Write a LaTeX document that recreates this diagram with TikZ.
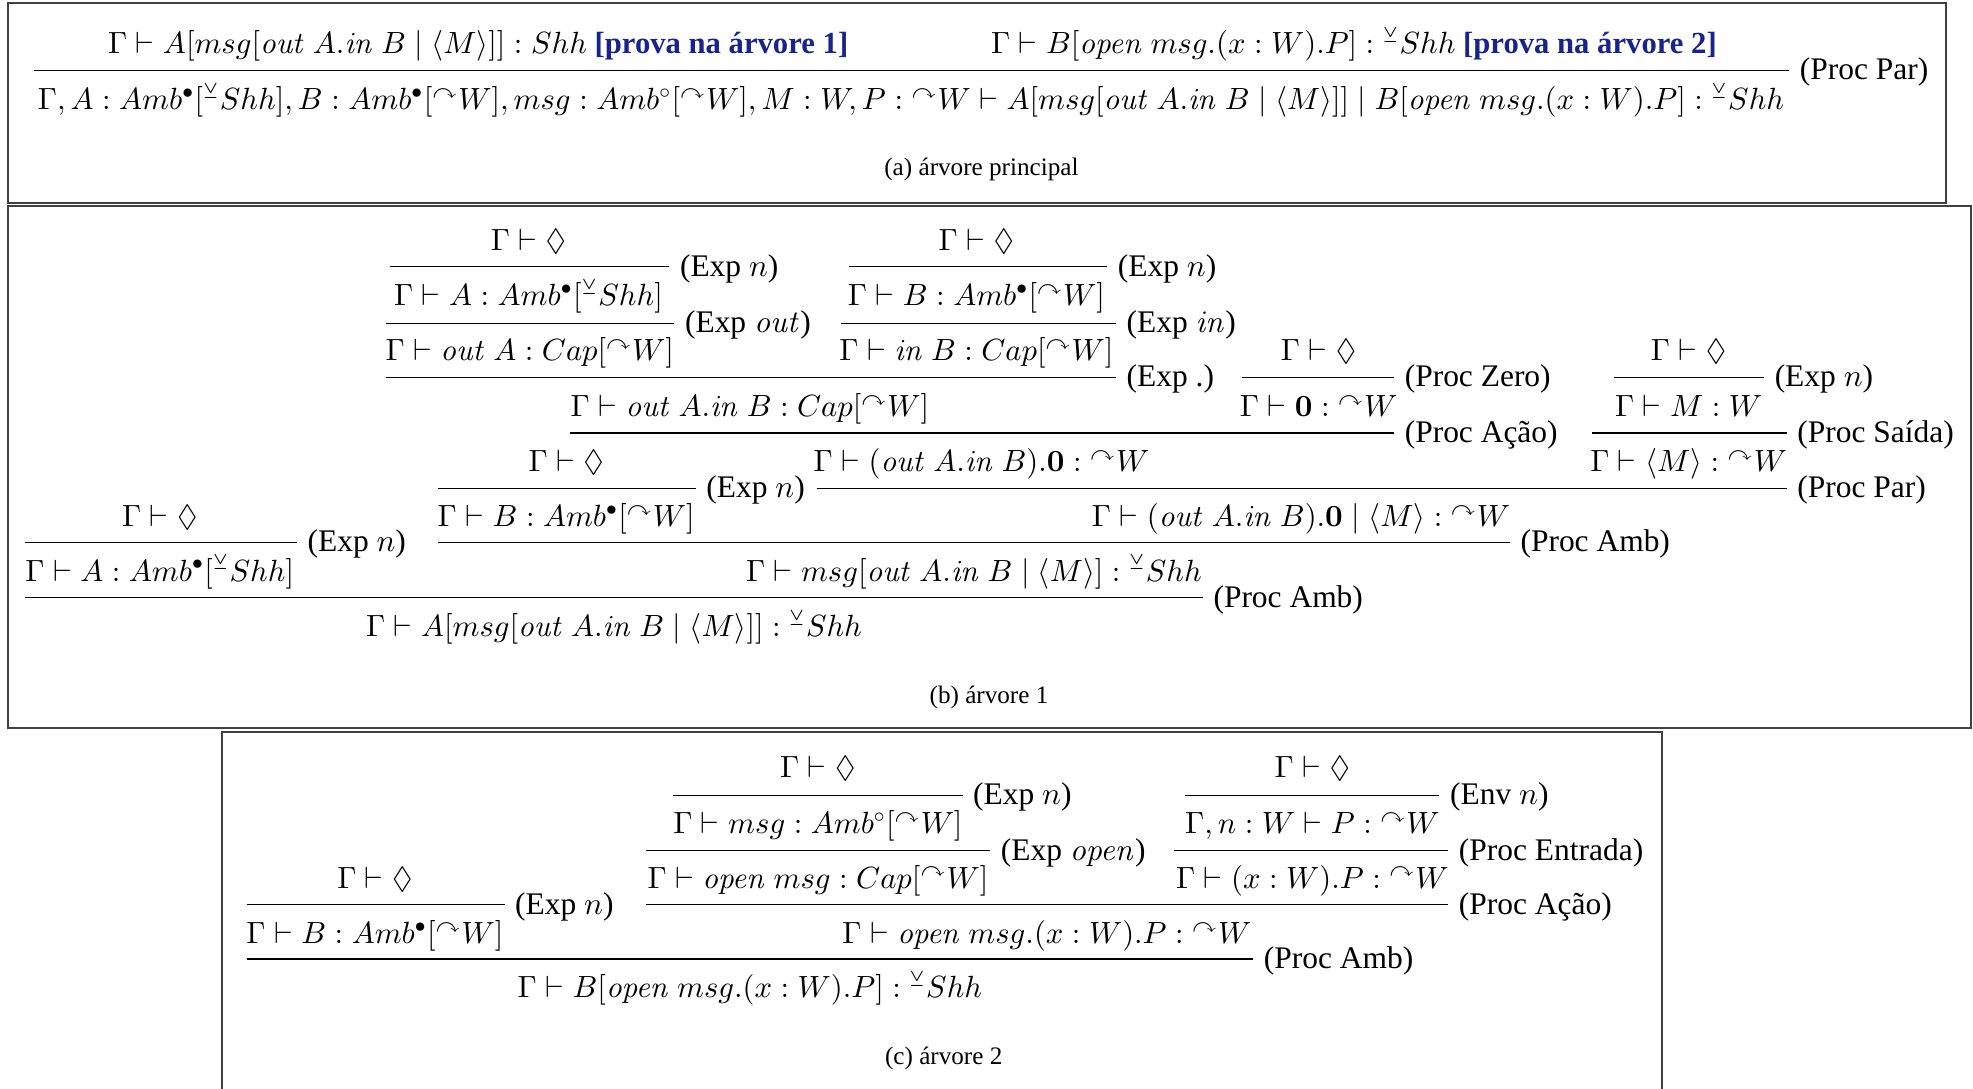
\documentclass[tikz,border=0pt]{standalone}
\usepackage{amsmath,amssymb}
\usepackage[no-math]{fontspec}
\setmainfont{Liberation Serif}
\usepackage{xcolor}
\DeclareFontShape{OML}{cmm}{m}{it}{<->cmmi10}{}
\DeclareFontShape{OMS}{cmsy}{m}{n}{<->cmsy10}{}
\DeclareFontShape{OT1}{cmr}{m}{n}{<->cmr10}{}
\DeclareFontShape{OT1}{cmr}{m}{it}{<->cmti10}{}
\DeclareFontShape{OT1}{cmr}{bx}{n}{<->cmbx10}{}
\definecolor{provablue}{RGB}{25,35,140}
\newcommand{\arW}{{}^{\curvearrowright}W}
\newcommand{\shW}{{}^{\veebar}Shh}
\tikzset{every picture/.style={line width=0.75pt}}
\tikzset{
  fml/.style={anchor=mid, inner sep=0pt, yshift=-1.2pt, font=\fontsize{9.75}{11.7}\selectfont},
  rl/.style={anchor=west, inner sep=3pt, text height=7.5pt, text depth=1.5pt},
  rule/.style={line width=0.45pt},
  frame/.style={draw=black!75, line width=0.6pt},
  subcap/.style={anchor=mid, inner sep=0pt, yshift=-0.8pt, font=\fontsize{8}{9.6}\selectfont}
}

\begin{document}
\begin{tikzpicture}[x=0.4pt,y=0.4pt,yscale=-1,xscale=1]
\useasboundingbox (0,0) rectangle (1568,865);

%Frames
\draw[frame] (6.4,2.4) rectangle (1546.3,161);
\draw[frame] (6.4,163.7) rectangle (1566.6,578.6);
\draw[frame] (176.4,880) -- (176.4,581.7) -- (1320.8,581.7) -- (1320.8,880);

% ---- (a) arvore principal
% Text Node
\node[fml] (a1) at (380,34) {$\Gamma\vdash A[msg[\mathit{out}\ A.\mathit{in}\ B\mid\langle M\rangle]]:Shh$ \textbf{\color{provablue}[prova na árvore 1]}};
% Text Node
\node[fml] (a2) at (1076,34) {$\Gamma\vdash B[\mathit{open}\ msg.(x:W).P]:\shW$ \textbf{\color{provablue}[prova na árvore 2]}};
\node[rl] (ra) at (1422,56) {(Proc Par)};
%Straight Lines
\draw[rule] (27,56) -- (ra.west);
% Text Node
\node[fml] (a3) at (724,78) {$\Gamma, A:Amb^{\bullet}[\shW], B:Amb^{\bullet}[\arW], msg:Amb^{\circ}[\arW], M:W, P:\arW\vdash A[msg[\mathit{out}\ A.\mathit{in}\ B\mid\langle M\rangle]]\mid B[\mathit{open}\ msg.(x:W).P]:\shW$};
\node[subcap] (capa) at (780,132) {(a)~árvore principal};

% ---- (b) arvore 1
% Text Node
\node[fml] (b1) at (420,190) {$\Gamma\vdash\Diamond$};
\node[rl] (rb1) at (532,212) {(Exp $n$)};
\draw[rule] (310,212) -- (rb1.west);
\node[fml] (b2) at (420,234) {$\Gamma\vdash A:Amb^{\bullet}[\shW]$};
\node[rl] (rb2) at (536,257) {(Exp $\mathit{out}$)};
\draw[rule] (307,257) -- (rb2.west);
\node[fml] (b3) at (421,278) {$\Gamma\vdash\mathit{out}\ A:Cap[\arW]$};
% Text Node
\node[fml] (b4) at (776,190) {$\Gamma\vdash\Diamond$};
\node[rl] (rb3) at (880,212) {(Exp $n$)};
\draw[rule] (675,212) -- (rb3.west);
\node[fml] (b5) at (776,234) {$\Gamma\vdash B:Amb^{\bullet}[\arW]$};
\node[rl] (rb4) at (887,257) {(Exp $\mathit{in}$)};
\draw[rule] (668,257) -- (rb4.west);
\node[fml] (b6) at (776,278) {$\Gamma\vdash\mathit{in}\ B:Cap[\arW]$};
\node[rl] (rb5) at (887,300) {(Exp .)};
\draw[rule] (307,300) -- (rb5.west);
\node[fml] (b7) at (596,322) {$\Gamma\vdash\mathit{out}\ A.\mathit{in}\ B:Cap[\arW]$};
% Text Node
\node[fml] (b8) at (1048,278) {$\Gamma\vdash\Diamond$};
\node[rl] (rb6) at (1108,300) {(Proc Zero)};
\draw[rule] (987,300) -- (rb6.west);
\node[fml] (b9) at (1048,322) {$\Gamma\vdash\mathbf{0}:\arW$};
\node[rl] (rb7) at (1108,344) {(Proc Ação)};
\draw[rule] (453,344) -- (rb7.west);
\node[fml] (b10) at (780,366) {$\Gamma\vdash(\mathit{out}\ A.\mathit{in}\ B).\mathbf{0}:\arW$};
% Text Node
\node[fml] (b11) at (1342,278) {$\Gamma\vdash\Diamond$};
\node[rl] (rb8) at (1402,300) {(Exp $n$)};
\draw[rule] (1283,300) -- (rb8.west);
\node[fml] (b12) at (1342,322) {$\Gamma\vdash M:W$};
\node[rl] (rb9) at (1420,344) {(Proc Saída)};
\draw[rule] (1265,344) -- (rb9.west);
\node[fml] (b13) at (1342,366) {$\Gamma\vdash\langle M\rangle:\arW$};
\node[rl] (rb10) at (1420,388) {(Proc Par)};
\draw[rule] (649,388) -- (rb10.west);
\node[fml] (b14) at (1034,410) {$\Gamma\vdash(\mathit{out}\ A.\mathit{in}\ B).\mathbf{0}\mid\langle M\rangle:\arW$};
% Text Node
\node[fml] (b15) at (450,366) {$\Gamma\vdash\Diamond$};
\node[rl] (rb11) at (553,388) {(Exp $n$)};
\draw[rule] (348,388) -- (rb11.west);
\node[fml] (b16) at (450,410) {$\Gamma\vdash B:Amb^{\bullet}[\arW]$};
\node[rl] (rb12) at (1200,431) {(Proc Amb)};
\draw[rule] (348,431) -- (rb12.west);
\node[fml] (b17) at (774,453) {$\Gamma\vdash msg[\mathit{out}\ A.\mathit{in}\ B\mid\langle M\rangle]:\shW$};
% Text Node
\node[fml] (b18) at (127,410) {$\Gamma\vdash\Diamond$};
\node[rl] (rb13) at (236,431) {(Exp $n$)};
\draw[rule] (20,431) -- (rb13.west);
\node[fml] (b19) at (127,453) {$\Gamma\vdash A:Amb^{\bullet}[\shW]$};
\node[rl] (rb14) at (956,475) {(Proc Amb)};
\draw[rule] (20,475) -- (rb14.west);
\node[fml] (b20) at (488,497) {$\Gamma\vdash A[msg[\mathit{out}\ A.\mathit{in}\ B\mid\langle M\rangle]]:\shW$};
\node[subcap] (capb) at (786,551) {(b)~árvore 1};

% ---- (c) arvore 2
% Text Node
\node[fml] (c1) at (650,609) {$\Gamma\vdash\Diamond$};
\node[rl] (rc1) at (765,632) {(Exp $n$)};
\draw[rule] (535,632) -- (rc1.west);
\node[fml] (c2) at (650,654) {$\Gamma\vdash msg:Amb^{\circ}[\arW]$};
\node[rl] (rc2) at (787,676) {(Exp $\mathit{open}$)};
\draw[rule] (513,676) -- (rc2.west);
\node[fml] (c3) at (650,697) {$\Gamma\vdash\mathit{open}\ msg:Cap[\arW]$};
% Text Node
\node[fml] (c4) at (1043,609) {$\Gamma\vdash\Diamond$};
\node[rl] (rc3) at (1144,632) {(Env $n$)};
\draw[rule] (942,632) -- (rc3.west);
\node[fml] (c5) at (1043,654) {$\Gamma, n:W\vdash P:\arW$};
\node[rl] (rc4) at (1151,676) {(Proc Entrada)};
\draw[rule] (933,676) -- (rc4.west);
\node[fml] (c6) at (1043,697) {$\Gamma\vdash(x:W).P:\arW$};
\node[rl] (rc5) at (1151,719) {(Proc Ação)};
\draw[rule] (513,719) -- (rc5.west);
\node[fml] (c7) at (832,741) {$\Gamma\vdash\mathit{open}\ msg.(x:W).P:\arW$};
% Text Node
\node[fml] (c8) at (298,697) {$\Gamma\vdash\Diamond$};
\node[rl] (rc6) at (401,719) {(Exp $n$)};
\draw[rule] (196,719) -- (rc6.west);
\node[fml] (c9) at (298,741) {$\Gamma\vdash B:Amb^{\bullet}[\arW]$};
\node[rl] (rc7) at (996,762) {(Proc Amb)};
\draw[rule] (196,762) -- (rc7.west);
\node[fml] (c10) at (596,784) {$\Gamma\vdash B[\mathit{open}\ msg.(x:W).P]:\shW$};
\node[subcap] (capc) at (750,838) {(c)~árvore 2};

\end{tikzpicture}
\end{document}
